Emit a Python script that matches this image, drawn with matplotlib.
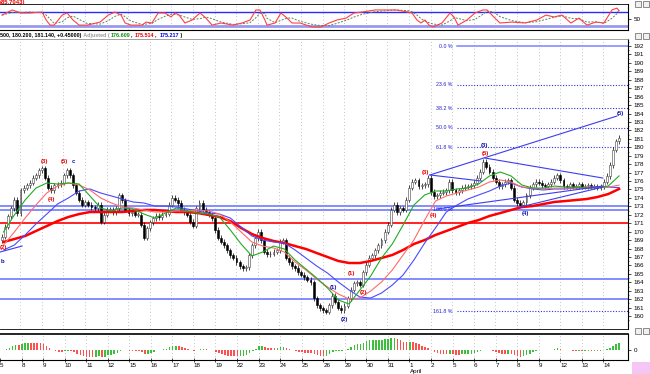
import numpy as np
import pandas as pd
import matplotlib
matplotlib.use("Agg")
import matplotlib.pyplot as plt
from matplotlib.patches import Rectangle
from matplotlib.transforms import blended_transform_factory

plt.rcParams['font.family'] = ['Liberation Sans', 'DejaVu Sans']

# session labels (March .. April), hourly bars
day_labels = ["5", "8", "9", "10", "11", "12", "15", "16", "17", "18", "19", "22", "23", "24",
              "25", "26", "29", "30", "31", "1", "2", "5", "6", "7", "8", "9", "12", "13", "14"]
closes_by_day = [
    [169.4, 170.6, 171.8, 172.8, 173.8, 172.2, 174.9],
    [175.2, 175.5, 175.8, 176.4, 176.7, 177.3, 177.5],
    [176.4, 175.2, 174.9, 175.5, 175.6, 175.8, 176.7],
    [177.3, 176.7, 175.5, 174.6, 173.8, 173.2, 173.5],
    [173.2, 172.9, 172.8, 173.2, 171.2, 172.0, 172.6],
    [172.6, 172.3, 172.8, 174.3, 173.7, 172.6, 172.2],
    [172.3, 172.0, 172.0, 170.8, 169.3, 170.4, 171.1],
    [171.6, 171.9, 171.7, 172.0, 172.1, 173.2, 174.0],
    [173.8, 173.4, 172.6, 172.3, 172.0, 171.2, 170.7],
    [172.8, 173.4, 172.6, 172.3, 172.0, 171.6, 170.2],
    [169.3, 168.8, 168.4, 167.8, 167.2, 166.9, 166.4],
    [165.9, 165.7, 165.8, 167.2, 168.4, 169.2, 170.0],
    [169.0, 167.6, 167.3, 167.4, 167.6, 167.8, 168.8],
    [169.0, 166.9, 166.4, 165.9, 165.7, 165.2, 164.9],
    [164.6, 164.3, 164.0, 162.1, 161.3, 160.9, 160.7],
    [160.5, 161.3, 162.4, 161.7, 161.0, 160.7, 161.2],
    [162.1, 163.1, 163.9, 164.0, 163.7, 165.2, 166.1],
    [166.9, 167.2, 167.8, 168.4, 169.0, 170.0, 170.8],
    [172.6, 173.2, 172.3, 172.8, 172.6, 173.8, 175.2],
    [175.9, 176.1, 175.4, 175.5, 175.6, 176.4, 174.7],
    [174.2, 174.3, 174.6, 174.7, 174.9, 175.9, 174.9],
    [174.7, 174.9, 175.2, 175.3, 175.4, 175.5, 175.8],
    [176.4, 177.1, 178.3, 177.7, 177.1, 176.4, 175.9],
    [175.4, 175.6, 175.9, 176.1, 175.2, 173.8, 173.4],
    [173.2, 173.5, 174.3, 175.2, 175.6, 175.9, 175.8],
    [175.5, 175.4, 175.6, 175.9, 176.4, 176.7, 176.1],
    [175.4, 175.3, 175.6, 175.3, 175.4, 175.6, 175.3],
    [175.4, 175.5, 175.3, 175.4, 175.2, 175.4, 175.9],
    [176.6, 177.9, 179.7, 180.69, 181.14],
]
first_open = 169.0

# moving averages, sampled every half session
ma_green = [169.96, 171.98, 173.75, 175.17, 175.77, 175.65, 175.77, 175.65, 174.23, 172.81,
            172.45, 172.81, 172.69, 172.09, 171.62, 172.21, 172.81, 172.45, 172.21, 172.09,
            171.74, 170.20, 168.54, 167.12, 167.59, 168.30, 167.95, 166.64, 165.58, 164.51,
            163.33, 161.91, 161.43, 163.09, 164.75, 166.88, 168.54, 170.79, 173.16, 174.35,
            174.82, 174.82, 175.06, 175.17, 175.65, 176.60, 177.07, 176.60, 175.53, 175.17,
            175.17, 175.41, 175.29, 175.29, 175.17, 175.17, 175.41, 176.61]
ma_red = [168.42, 169.96, 171.62, 173.16, 174.58, 175.41, 175.77, 175.53, 174.94, 173.99,
          173.40, 172.92, 172.81, 172.57, 172.33, 172.33, 172.45, 172.45, 172.57, 172.45,
          172.09, 171.15, 169.96, 168.78, 168.30, 168.07, 167.59, 166.41, 165.46, 164.39,
          163.45, 162.62, 162.02, 162.14, 162.97, 164.04, 165.46, 167.24, 169.01, 171.38,
          173.63, 174.23, 174.58, 174.94, 175.29, 175.89, 176.12, 175.89, 175.29, 175.17,
          175.06, 175.17, 175.17, 175.17, 175.29, 175.29, 175.29, 175.51]
ma_blue = [167.83, 168.42, 169.61, 170.91, 172.09, 173.28, 173.99, 174.82, 175.06, 174.58,
           174.23, 173.87, 173.52, 173.40, 173.04, 173.04, 172.92, 172.69, 172.45, 172.21,
           172.09, 171.62, 170.55, 169.49, 169.01, 168.78, 168.66, 167.83, 166.88, 165.93,
           165.10, 164.04, 163.09, 162.26, 162.14, 162.73, 163.68, 164.87, 166.64, 168.66,
           170.44, 172.33, 173.16, 173.87, 174.35, 174.82, 175.41, 175.77, 175.29, 175.06,
           174.94, 175.06, 175.06, 175.17, 175.17, 175.29, 175.29, 175.22]
ma_long = [168.78, 169.13, 169.49, 170.08, 170.67, 171.26, 171.74, 172.09, 172.33, 172.33,
           172.33, 172.33, 172.45, 172.57, 172.57, 172.45, 172.33, 172.33, 172.21, 171.98,
           171.74, 171.26, 170.44, 169.72, 169.25, 168.90, 168.66, 168.30, 167.95, 167.47,
           167.00, 166.53, 166.29, 166.29, 166.53, 166.88, 167.24, 167.83, 168.54, 169.01,
           169.61, 170.08, 170.55, 171.03, 171.38, 171.86, 172.21, 172.57, 172.92, 173.04,
           173.28, 173.52, 173.63, 173.75, 173.87, 174.11, 174.46, 175.06]

# stochastic %K (bar position, value)
stoch_bar = [0, 3.3, 6.2, 8.8, 13.0, 14.3, 15.6, 16.9, 19.5, 21.1, 23.0, 25.0, 27.6, 31.8, 34.4,
             36.6, 38.6, 39.9, 41.8, 45.4, 46.7, 48.6, 50.6, 52.8, 54.8, 56.1, 57.4, 59.3, 61.6,
             64.2, 66.1, 68.1, 71.0, 74.9, 77.8, 80.4, 82.3, 83.6, 85.2, 85.9, 88.5, 90.4, 92.4,
             94.0, 96.6, 100.5, 103.4, 106.0, 108.6, 111.5, 114.1, 116.7, 120.9, 124.8, 127.7,
             131.6, 132.9, 134.5, 135.8, 137.1, 138.4, 139.7, 142.6, 145.2, 146.5, 147.8, 150.7,
             153.3, 155.9, 157.2, 159.4, 161.4, 165.3, 169.5, 173.4, 176.3, 178.9, 181.5, 184.4,
             187.0, 189.6, 192.5, 195.1, 197.7, 199.3, 200]
stoch_k = [67, 89, 76, 76, 80, 46, 24, 24, 67, 76, 46, 24, 24, 37, 67, 80, 67, 33, 24, 24, 37,
           33, 76, 76, 59, 76, 67, 33, 46, 76, 54, 24, 33, 24, 33, 46, 89, 89, 46, 24, 33, 76,
           54, 33, 33, 16, 16, 33, 46, 54, 76, 80, 89, 89, 89, 80, 76, 46, 33, 46, 24, 16, 33,
           76, 59, 24, 46, 76, 89, 89, 59, 33, 37, 33, 46, 67, 59, 67, 33, 54, 24, 37, 33, 89,
           97, 86]

fib_pct = ["0.0 %", "23.6 %", "38.2 %", "50.0 %", "61.8 %", "100.0 %", "161.8 %"]
fib_price = [192.0, 187.4, 184.6, 182.3, 180.0, 172.6, 160.6]
support_blue = [173.1, 164.4, 162.0]
support_red = [171.0]

# trend lines: (bar0, price0, bar1, price1)
trend_lines = [
    (138.7, 176.72, 199.3, 183.70),
    (156.5, 178.73, 194.7, 176.36),
    (138.7, 176.72, 155.5, 176.00),
    (141.0, 172.69, 194.7, 175.41),
    (167.9, 172.92, 194.7, 175.29),
    (-0.65, 167.59, 6.5, 168.30),
]
wave_red = [("(3)", 13.6, 178.26), ("(4)", 15.9, 173.87), ("(5)", 20.1, 178.26),
            ("(2)", 0.6, 168.18), ("(1)", 113.4, 165.10), ("(2)", 117.0, 162.85),
            ("(3)", 137.1, 177.07), ("(5)", 156.8, 179.32), ("(4)", 139.8, 171.95)]
wave_blue = [("c", 23.0, 178.26), ("b", 0.0, 166.41), ("(1)", 107.3, 163.33),
             ("(2)", 111.1, 159.54), ("(3)", 156.5, 180.27), ("(4)", 169.5, 172.21),
             ("(5)", 200.3, 184.06)]

closes = [c for day in closes_by_day for c in day]
n = len(closes)
x = np.arange(n)
c = np.array(closes)
o = np.array([first_open] + closes[:-1])
day_start = np.cumsum([0] + [len(d) for d in closes_by_day[:-1]])
grid_x = day_start - 1.1
ma_x = np.arange(len(ma_green)) * 3.5 + 0.5

W, H = 650, 374
fig = plt.figure(figsize=(6.5, 3.74), dpi=100)
def box(top, bot):
    return [0, 1 - bot / H, 628 / W, (bot - top) / H]
ax_st = fig.add_axes(box(4, 30))
ax = fig.add_axes(box(39, 329))
ax_m = fig.add_axes(box(334, 360))
xlim = (-0.65, 202.9)
grid_kw = dict(color='#b0b0b0', lw=0.6, linestyle=(0, (1, 3)), zorder=0)
for a in (ax_st, ax, ax_m):
    a.set_xlim(*xlim)
    for gx in grid_x[1:]:
        a.axvline(gx, **grid_kw)
    a.spines['left'].set_visible(False)
    a.spines['right'].set_linewidth(0.8)
    a.yaxis.tick_right()
    a.tick_params(axis='y', labelsize=4.5, length=2, width=0.5, pad=2)
    a.set_xticks([])

# ---- stochastic
ax_st.set_ylim(3, 114.6)
k = pd.Series(stoch_k, dtype=float)
d = k.rolling(3, min_periods=1).mean()
ax_st.axhline(80, color='#2a2aff', lw=1.0, zorder=1)
ax_st.axhline(20, color='#9898f0', lw=2.0, zorder=1)
ax_st.plot(stoch_bar, d, color='#608060', lw=0.7, linestyle=(0, (2, 1.5)), zorder=2)
ax_st.plot(stoch_bar, k, color='#ff4040', lw=0.8, zorder=3)
ax_st.set_yticks([50])
ax_st.set_yticklabels(["50"])
ax_st.spines['top'].set_linewidth(0.6)
ax_st.spines['bottom'].set_linewidth(0.8)

# ---- price panel
ax.set_ylim(158.47, 192.83)
ax.set_yticks(range(160, 193))
ax.set_yticks(np.arange(159.5, 193, 1), minor=True)
ax.tick_params(axis='y', which='minor', length=1, width=0.4)
ax.spines['top'].set_color('#909090')
ax.spines['top'].set_linewidth(0.6)
ax.spines['bottom'].set_linewidth(0.6)

for lvl in support_blue:
    ax.axhline(lvl, color='#7a84ff', lw=1.3, zorder=1)
for lvl in support_red:
    ax.axhline(lvl, color='#ff1010', lw=1.3, zorder=1)
fib_x0 = 147.5
for lab, p in zip(fib_pct, fib_price):
    if lab in ("0.0 %", "100.0 %"):
        ax.plot([fib_x0 if lab == "0.0 %" else xlim[0], xlim[1]], [p, p], color='#7a84ff',
                lw=1.1 if lab == "0.0 %" else 1.3, zorder=1)
    else:
        ax.plot([fib_x0, xlim[1]], [p, p], color='#3030e0', lw=0.8,
                linestyle=(0, (1, 1.5)), zorder=1)
    ax.text(fib_x0 - 1.5, p, lab, color='#2020d0', fontsize=3.8, ha='right', va='center',
            zorder=6)

up = c >= o
lo_b = np.minimum(o, c)
hi_b = np.maximum(o, c)
body = np.maximum(hi_b - lo_b, 0.06)
wick = 0.3
ax.vlines(x, lo_b - wick, hi_b + wick, color='black', lw=0.5, zorder=3)
ax.bar(x[up], body[up], bottom=lo_b[up], width=0.62, color='white', edgecolor='#404040',
       linewidth=0.4, zorder=4)
ax.bar(x[~up], body[~up], bottom=lo_b[~up], width=0.62, color='black', edgecolor='black',
       linewidth=0.4, zorder=4)

ax.plot(ma_x, ma_long, color='#ff0000', lw=1.8, zorder=5)
ax.plot(ma_x, ma_blue, color='#4a4aff', lw=0.8, zorder=5)
ax.plot(ma_x, ma_red, color='#ff6a6a', lw=0.8, zorder=5)
ax.plot(ma_x, ma_green, color='#22aa22', lw=0.8, zorder=5)

for b0, p0, b1, p1 in trend_lines:
    ax.plot([b0, b1], [p0, p1], color='#3c3cf0', lw=0.8, zorder=6)
for lab, bx, p in wave_red:
    ax.text(bx, p, lab, color='#ee0000', fontsize=4.3, ha='center', va='center',
            fontweight='bold', zorder=7)
for lab, bx, p in wave_blue:
    ax.text(bx, p, lab, color='#1010b0', fontsize=4.3, ha='center', va='center',
            fontweight='bold', zorder=7)

# ---- MACD histogram
s = pd.Series(closes)
macd = s.ewm(span=12, adjust=False).mean() - s.ewm(span=26, adjust=False).mean()
sig = macd.ewm(span=9, adjust=False).mean()
hist = (macd - sig).values
rising = np.r_[True, hist[1:] >= hist[:-1]]
hcol = np.where(rising, '#3cc03c', '#ff5050')
ax_m.bar(x, hist, width=0.5, color=hcol, linewidth=0, zorder=2)
hmax = np.abs(hist).max()
ax_m.set_ylim(-hmax * 10 / 12, hmax * 16 / 12)
ax_m.set_yticks([0])
ax_m.set_yticklabels(["0"])
ax_m.spines['top'].set_linewidth(1.2)
ax_m.spines['bottom'].set_linewidth(0.8)
ax_m.set_xticks(grid_x)
ax_m.set_xticklabels(day_labels)
ax_m.tick_params(axis='x', labelsize=4.5, length=3, width=0.5, pad=1, direction='inout')
for t in ax_m.get_xticklabels():
    t.set_horizontalalignment('left')
tr = blended_transform_factory(ax_m.transData, ax_m.transAxes)
ax_m.text(grid_x[19] + 0.2, -0.45, "April", transform=tr, fontsize=4.5, ha='left', va='center')

# ---- header texts
fig.text(0.0, 1 - 2.5 / H, "(85.7043)", color='#e00000', fontsize=4.2, fontweight='bold',
         va='center', ha='left')
hy = 1 - 35.5 / H
hdr = [("500, 180.200, 181.140, +0.45000)", 'black'), (" Adjusted (", '#9a9a9a'),
       ("176.609", '#109010'), (", ", 'black'), ("175.514", '#ee0000'),
       (", ", 'black'), ("175.217", '#0000ee'), (" )", 'black')]
renderer = fig.canvas.get_renderer()
px = 0.0
for txt, col in hdr:
    t = fig.text(px / W, hy, txt, color=col, fontsize=3.9, fontweight='bold', va='center',
                 ha='left', family=['Liberation Sans Narrow', 'Liberation Sans'])
    px = t.get_window_extent(renderer).x1 + 0.8

# window buttons and corner box
for yy in (0.5, 32.5, 328):
    for xx in (635, 643):
        fig.add_artist(Rectangle((xx / W, 1 - (yy + 6) / H), 6 / W, 6 / H,
                                 transform=fig.transFigure, facecolor='#f0f0f0',
                                 edgecolor='#606060', lw=0.5))
fig.add_artist(Rectangle((632 / W, 0), 18 / W, 12 / H, transform=fig.transFigure,
                         facecolor='#f5c6f5', edgecolor='none'))

fig.savefig("out.png", dpi=100)
